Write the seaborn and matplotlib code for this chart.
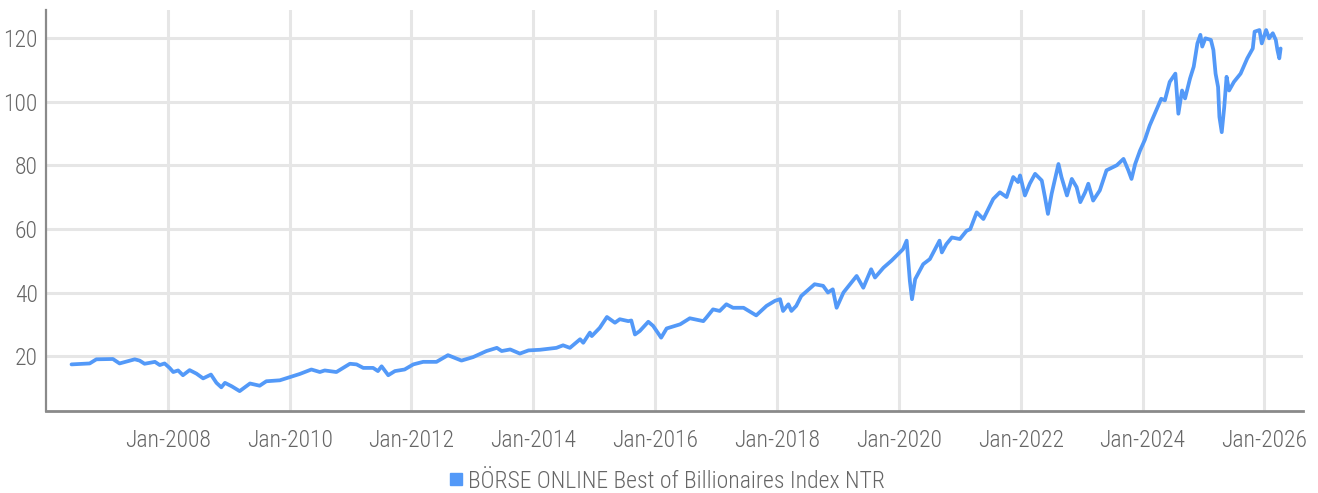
import matplotlib
matplotlib.use("Agg")
import matplotlib.pyplot as plt
import matplotlib.dates as mdates
from matplotlib import font_manager
from matplotlib.lines import Line2D
import pandas as pd
import seaborn as sns

# ---------------- data ----------------
series_name = "BÖRSE ONLINE Best of Billionaires Index NTR"
dates = [
    "2006-06-03", "2006-09-20", "2006-10-30", "2007-02-06", "2007-03-18", "2007-06-17",
    "2007-07-16", "2007-08-15", "2007-10-16", "2007-11-14", "2007-12-13", "2008-01-12",
    "2008-02-03", "2008-03-03", "2008-04-01", "2008-05-11", "2008-06-21", "2008-07-31",
    "2008-09-16", "2008-10-19", "2008-11-17", "2008-12-09", "2009-01-19", "2009-03-07",
    "2009-05-08", "2009-07-05", "2009-08-14", "2009-11-03", "2010-01-01", "2010-03-03",
    "2010-05-11", "2010-07-01", "2010-07-30", "2010-10-08", "2010-12-28", "2011-02-06",
    "2011-03-18", "2011-05-16", "2011-06-14", "2011-07-06", "2011-08-15", "2011-09-24",
    "2011-11-21", "2012-01-12", "2012-03-11", "2012-05-30", "2012-08-07", "2012-10-27",
    "2013-01-05", "2013-03-26", "2013-05-27", "2013-06-25", "2013-08-15", "2013-10-12",
    "2013-12-03", "2014-02-10", "2014-05-19", "2014-06-28", "2014-08-08", "2014-10-08",
    "2014-10-27", "2014-12-06", "2014-12-17", "2015-02-03", "2015-03-18", "2015-05-05",
    "2015-06-03", "2015-07-24", "2015-08-11", "2015-09-02", "2015-10-01", "2015-11-21",
    "2015-12-20", "2016-02-06", "2016-03-10", "2016-05-30", "2016-07-27", "2016-10-16",
    "2016-11-03", "2016-12-13", "2017-01-22", "2017-03-03", "2017-04-12", "2017-06-14",
    "2017-08-29", "2017-10-30", "2017-12-20", "2018-01-19", "2018-02-06", "2018-03-10",
    "2018-03-28", "2018-04-26", "2018-05-26", "2018-08-14", "2018-10-04", "2018-11-02",
    "2018-12-01", "2018-12-24", "2019-02-03", "2019-04-23", "2019-06-02", "2019-07-19",
    "2019-08-11", "2019-10-01", "2019-11-18", "2020-01-26", "2020-02-17", "2020-03-07",
    "2020-03-20", "2020-04-08", "2020-05-26", "2020-07-05", "2020-09-01", "2020-09-15",
    "2020-10-12", "2020-11-14", "2021-01-01", "2021-02-10", "2021-03-04", "2021-04-12",
    "2021-05-22", "2021-07-20", "2021-08-29", "2021-10-08", "2021-11-17", "2021-12-16",
    "2021-12-28", "2022-01-26", "2022-02-24", "2022-03-28", "2022-05-07", "2022-05-26",
    "2022-06-13", "2022-07-05", "2022-08-15", "2022-09-02", "2022-10-05", "2022-11-03",
    "2022-12-02", "2022-12-24", "2023-01-22", "2023-02-10", "2023-03-11", "2023-04-20",
    "2023-05-30", "2023-07-31", "2023-09-09", "2023-10-08", "2023-10-27", "2023-11-18",
    "2023-12-17", "2024-01-15", "2024-02-13", "2024-03-17", "2024-04-22", "2024-05-14",
    "2024-06-12", "2024-07-16", "2024-08-03", "2024-08-25", "2024-09-12", "2024-10-12",
    "2024-11-03", "2024-11-25", "2024-12-13", "2024-12-24", "2025-01-12", "2025-02-14",
    "2025-03-01", "2025-03-14", "2025-03-29", "2025-04-06", "2025-04-20", "2025-05-05",
    "2025-05-19", "2025-06-03", "2025-07-02", "2025-08-11", "2025-09-20", "2025-10-23",
    "2025-11-03", "2025-12-02", "2025-12-16", "2026-01-11", "2026-01-29", "2026-02-20",
    "2026-03-10", "2026-03-20", "2026-03-31", "2026-04-08",
]
values = [
    17.4, 17.7, 19.0, 19.1, 17.7, 19.0,
    18.6, 17.6, 18.2, 17.2, 17.7, 16.3,
    15.0, 15.5, 14.0, 15.6, 14.5, 13.0,
    14.2, 11.6, 10.2, 11.6, 10.5, 9.0,
    11.4, 10.7, 12.1, 12.4, 13.4, 14.4,
    15.8, 15.0, 15.5, 15.0, 17.6, 17.4,
    16.3, 16.3, 15.3, 16.8, 14.0, 15.3,
    15.8, 17.4, 18.2, 18.2, 20.3, 18.6,
    19.7, 21.6, 22.6, 21.6, 22.1, 20.8,
    21.8, 22.0, 22.6, 23.4, 22.6, 25.3,
    24.2, 27.4, 26.3, 28.9, 32.3, 30.5,
    31.6, 31.0, 31.2, 26.8, 27.9, 30.8,
    29.5, 25.8, 28.7, 30.0, 31.9, 31.0,
    32.1, 34.7, 34.2, 36.3, 35.2, 35.2,
    32.8, 35.8, 37.4, 37.9, 34.2, 36.3,
    34.2, 35.8, 38.9, 42.6, 42.1, 40.0,
    41.0, 35.2, 40.0, 45.2, 41.5, 47.3,
    44.7, 47.8, 50.0, 53.6, 56.3, 43.7,
    37.9, 44.2, 48.9, 50.5, 56.3, 52.6,
    55.2, 57.3, 56.8, 59.4, 59.9, 65.2,
    63.1, 69.4, 71.5, 70.0, 76.3, 74.7,
    76.8, 70.5, 74.2, 77.3, 75.2, 70.0,
    64.7, 71.0, 80.4, 76.3, 70.5, 75.7,
    73.1, 68.4, 71.5, 74.2, 68.9, 72.1,
    78.4, 80.0, 82.0, 78.4, 75.7, 80.4,
    84.6, 88.0, 92.5, 96.5, 100.9, 100.4,
    106.2, 108.8, 96.2, 103.5, 101.0, 107.3,
    111.0, 118.3, 121.0, 117.3, 119.9, 119.4,
    116.2, 108.8, 104.6, 95.2, 90.4, 98.3,
    107.8, 103.5, 106.2, 108.8, 113.6, 116.7,
    122.0, 122.5, 118.3, 122.5, 119.9, 121.5,
    119.4, 116.2, 113.6, 116.7,
]
y_ticks = [20, 40, 60, 80, 100, 120]
x_tick_years = [2008, 2010, 2012, 2014, 2016, 2018, 2020, 2022, 2024, 2026]

df = pd.DataFrame({"date": pd.to_datetime(dates), "value": values, "series": series_name})

# ---------------- style ----------------
sns.set_theme(style="white")
available = {f.name for f in font_manager.fontManager.ttflist}
font_choice = None
for cand in ["Liberation Sans Narrow", "Roboto Condensed", "Open Sans Condensed", "Liberation Sans"]:
    if cand in available:
        font_choice = cand
        break
plt.rcParams["font.family"] = [font_choice, "DejaVu Sans"] if font_choice else ["DejaVu Sans"]
plt.rcParams["font.weight"] = "light"

line_color = "#5399f8"
text_color = "#666666"
grid_color = "#e6e6e6"

fig = plt.figure(figsize=(13.18, 4.93), dpi=100)
ax = fig.add_axes([0.0349, 0.166, 0.9537, 0.8137])

sns.lineplot(data=df, x="date", y="value", ax=ax, color=line_color, linewidth=2.7,
             legend=False)

ax.set_xlim(pd.Timestamp("2006-01-01"), pd.Timestamp("2026-08-20"))
ax.set_ylim(2.7, 128.8)
ax.set_yticks(y_ticks)
ax.set_xticks([pd.Timestamp(f"{y}-01-01") for y in x_tick_years])
ax.xaxis.set_major_formatter(mdates.DateFormatter("Jan-%Y"))
ax.set_xlabel("")
ax.set_ylabel("")

ax.grid(True, color=grid_color, linewidth=2.2)
ax.set_axisbelow(True)
ax.tick_params(axis="both", length=0, labelsize=17, colors=text_color)
ax.tick_params(axis="x", pad=13)
ax.tick_params(axis="y", pad=6)

for s in ["top", "right"]:
    ax.spines[s].set_visible(False)
ax.spines["left"].set_color("#8a8a8a")
ax.spines["left"].set_linewidth(1.6)
ax.spines["bottom"].set_color("#8a8a8a")
ax.spines["bottom"].set_linewidth(2.0)

handle = Line2D([], [], marker="s", linestyle="none", markersize=8,
                markerfacecolor=line_color, markeredgecolor=line_color)
fig.legend([handle], [series_name], loc="center", bbox_to_anchor=(0.505, 0.024),
           frameon=False, fontsize=17, labelcolor=text_color, handletextpad=0.1,
           handlelength=0.8)

fig.savefig("out.png", dpi=100)
